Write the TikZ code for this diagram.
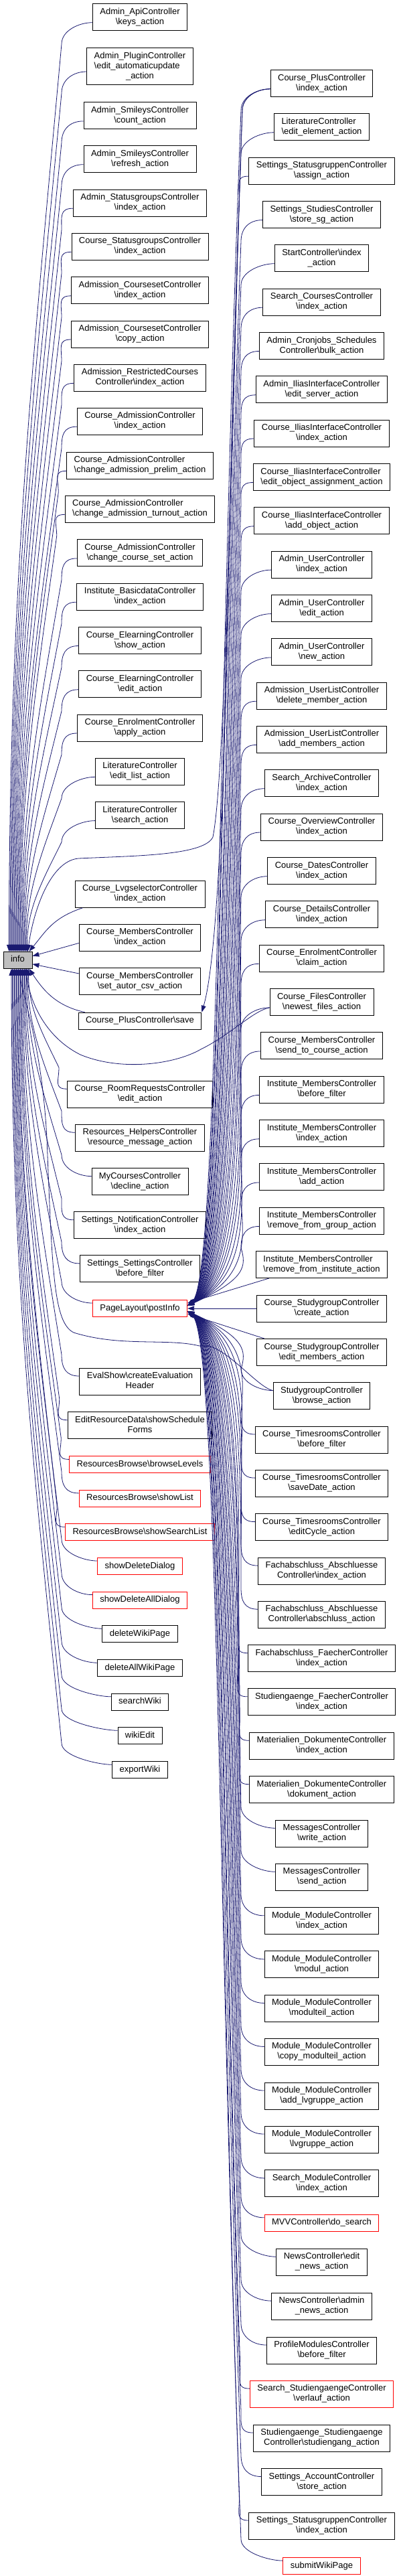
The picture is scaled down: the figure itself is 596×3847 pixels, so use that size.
\documentclass[tikz,border=0pt]{standalone}
\usepackage{fontspec}
\setmainfont{Liberation Sans}
\usepackage{tikz}
\usetikzlibrary{arrows.meta}
\usetikzlibrary{calc}
\definecolor{edgeblue}{HTML}{191970}
\newcommand{\nsep}{\textbackslash}
\newcommand{\fnl}[2]{\begin{tabular}{@{}l@{}}#1\\\multicolumn{1}{@{}c@{}}{#2}\end{tabular}}

\begin{document}
\begin{tikzpicture}[x=1pt,y=-1pt,>={Triangle[length=10pt,width=7pt]},
	fn/.style={draw=black,fill=white,line width=0.9pt,inner xsep=11pt,inner ysep=5pt,font=\fontsize{13}{15}\selectfont},
	one/.style={fn,text height=10.5pt,text depth=4.5pt},
	trunc/.style={draw=red},
	call/.style={draw=edgeblue,line width=0.8pt,->}]
	\useasboundingbox (0,0) rectangle (596,3847);
	
	%funzione
	\node[one,fill=black!25] (info) at (26.5,1433.8) {info};
	
	%chiamanti diretti
	\node[fn] (c1) at (209,25.7) {\fnl{Admin\_ApiController}{\nsep keys\_action}};
	\node[fn] (c2) at (209,99) {\fnl{Admin\_PluginController\\\nsep edit\_automaticupdate}{\_action}};
	\node[fn] (c3) at (209,172.9) {\fnl{Admin\_SmileysController}{\nsep count\_action}};
	\node[fn] (c4) at (209,237.7) {\fnl{Admin\_SmileysController}{\nsep refresh\_action}};
	\node[fn] (c5) at (209,303.2) {\fnl{Admin\_StatusgroupsController}{\nsep index\_action}};
	\node[fn] (c6) at (209,368.3) {\fnl{Course\_StatusgroupsController}{\nsep index\_action}};
	\node[fn] (c7) at (209,433.8) {\fnl{Admission\_CoursesetController}{\nsep index\_action}};
	\node[fn] (c8) at (209,499) {\fnl{Admission\_CoursesetController}{\nsep copy\_action}};
	\node[fn] (c9) at (209,564.3) {\fnl{Admission\_RestrictedCourses}{Controller\nsep index\_action}};
	\node[fn] (c10) at (209,629.2) {\fnl{Course\_AdmissionController}{\nsep index\_action}};
	\node[fn] (c11) at (209,695.3) {\fnl{Course\_AdmissionController}{\nsep change\_admission\_prelim\_action}};
	\node[fn] (c12) at (209,760.4) {\fnl{Course\_AdmissionController}{\nsep change\_admission\_turnout\_action}};
	\node[fn] (c13) at (209,825.9) {\fnl{Course\_AdmissionController}{\nsep change\_course\_set\_action}};
	\node[fn] (c14) at (209,891.2) {\fnl{Institute\_BasicdataController}{\nsep index\_action}};
	\node[fn] (c15) at (209,956.5) {\fnl{Course\_ElearningController}{\nsep show\_action}};
	\node[fn] (c16) at (209,1021.8) {\fnl{Course\_ElearningController}{\nsep edit\_action}};
	\node[fn] (c17) at (209,1087) {\fnl{Course\_EnrolmentController}{\nsep apply\_action}};
	\node[fn] (c18) at (209,1152.3) {\fnl{LiteratureController}{\nsep edit\_list\_action}};
	\node[fn] (c19) at (209,1217.6) {\fnl{LiteratureController}{\nsep search\_action}};
	\node[fn] (c20) at (209,1335.3) {\fnl{Course\_LvgselectorController}{\nsep index\_action}};
	\node[fn] (c21) at (209,1400.4) {\fnl{Course\_MembersController}{\nsep index\_action}};
	\node[fn] (c22) at (209,1465.9) {\fnl{Course\_MembersController}{\nsep set\_autor\_csv\_action}};
	\node[one] (c23) at (209,1524.6) {Course\_PlusController\nsep save};
	\node[fn] (c24) at (209,1634.2) {\fnl{Course\_RoomRequestsController}{\nsep edit\_action}};
	\node[fn] (c25) at (209,1699.3) {\fnl{Resources\_HelpersController}{\nsep resource\_message\_action}};
	\node[fn] (c26) at (209,1764.6) {\fnl{MyCoursesController}{\nsep decline\_action}};
	\node[fn] (c27) at (209,1829.8) {\fnl{Settings\_NotificationController}{\nsep index\_action}};
	\node[fn] (c28) at (209,1894.9) {\fnl{Settings\_SettingsController}{\nsep before\_filter}};
	\node[one,trunc] (postinfo) at (209,1954) {PageLayout\nsep postInfo};
	\node[fn] (c30) at (209,2063) {\fnl{EvalShow\nsep createEvaluation}{Header}};
	\node[fn] (c31) at (209,2128.7) {\fnl{EditResourceData\nsep showSchedule}{Forms}};
	\node[one,trunc] (c32) at (209,2187.4) {ResourcesBrowse\nsep browseLevels};
	\node[one,trunc] (c33) at (209,2237.9) {ResourcesBrowse\nsep showList};
	\node[one,trunc] (c34) at (209,2288.3) {ResourcesBrowse\nsep showSearchList};
	\node[one,trunc] (c35) at (209,2339) {showDeleteDialog};
	\node[one,trunc] (c36) at (209,2389.6) {showDeleteAllDialog};
	\node[one] (c37) at (209,2440.2) {deleteWikiPage};
	\node[one] (c38) at (209,2491.2) {deleteAllWikiPage};
	\node[one] (c39) at (209,2541.8) {searchWiki};
	\node[one] (c40) at (209,2592.3) {wikiEdit};
	\node[one] (c41) at (209,2643.3) {exportWiki};
	
	%chiamanti di postInfo
	\node[fn] (p1) at (480.5,124.8) {\fnl{Course\_PlusController}{\nsep index\_action}};
	\node[fn] (p2) at (480.5,189.8) {\fnl{LiteratureController}{\nsep edit\_element\_action}};
	\node[fn] (p3) at (480.5,255.1) {\fnl{Settings\_StatusgruppenController}{\nsep assign\_action}};
	\node[fn] (p4) at (480.5,320.6) {\fnl{Settings\_StudiesController}{\nsep store\_sg\_action}};
	\node[fn] (p5) at (480.5,385.7) {\fnl{StartController\nsep index}{\_action}};
	\node[fn] (p6) at (480.5,451.2) {\fnl{Search\_CoursesController}{\nsep index\_action}};
	\node[fn] (p7) at (480.5,516.5) {\fnl{Admin\_Cronjobs\_Schedules}{Controller\nsep bulk\_action}};
	\node[fn] (p8) at (480.5,581.8) {\fnl{Admin\_IliasInterfaceController}{\nsep edit\_server\_action}};
	\node[fn] (p9) at (480.5,647) {\fnl{Course\_IliasInterfaceController}{\nsep index\_action}};
	\node[fn] (p10) at (480.5,712.5) {\fnl{Course\_IliasInterfaceController}{\nsep edit\_object\_assignment\_action}};
	\node[fn] (p11) at (480.5,777.8) {\fnl{Course\_IliasInterfaceController}{\nsep add\_object\_action}};
	\node[fn] (p12) at (480.5,843.1) {\fnl{Admin\_UserController}{\nsep index\_action}};
	\node[fn] (p13) at (480.5,908.6) {\fnl{Admin\_UserController}{\nsep edit\_action}};
	\node[fn] (p14) at (480.5,973.9) {\fnl{Admin\_UserController}{\nsep new\_action}};
	\node[fn] (p15) at (480.5,1039.2) {\fnl{Admission\_UserListController}{\nsep delete\_member\_action}};
	\node[fn] (p16) at (480.5,1104.4) {\fnl{Admission\_UserListController}{\nsep add\_members\_action}};
	\node[fn] (p17) at (480.5,1169.7) {\fnl{Search\_ArchiveController}{\nsep index\_action}};
	\node[fn] (p18) at (480.5,1235) {\fnl{Course\_OverviewController}{\nsep index\_action}};
	\node[fn] (p19) at (480.5,1300.7) {\fnl{Course\_DatesController}{\nsep index\_action}};
	\node[fn] (p20) at (480.5,1365.8) {\fnl{Course\_DetailsController}{\nsep index\_action}};
	\node[fn] (p21) at (480.5,1431.3) {\fnl{Course\_EnrolmentController}{\nsep claim\_action}};
	\node[fn] (p22) at (480.5,1496.8) {\fnl{Course\_FilesController}{\nsep newest\_files\_action}};
	\node[fn] (p23) at (480.5,1561.9) {\fnl{Course\_MembersController}{\nsep send\_to\_course\_action}};
	\node[fn] (p24) at (480.5,1627.4) {\fnl{Institute\_MembersController}{\nsep before\_filter}};
	\node[fn] (p25) at (480.5,1692.8) {\fnl{Institute\_MembersController}{\nsep index\_action}};
	\node[fn] (p26) at (480.5,1757.9) {\fnl{Institute\_MembersController}{\nsep add\_action}};
	\node[fn] (p27) at (480.5,1823.4) {\fnl{Institute\_MembersController}{\nsep remove\_from\_group\_action}};
	\node[fn] (p28) at (480.5,1888.5) {\fnl{Institute\_MembersController}{\nsep remove\_from\_institute\_action}};
	\node[fn] (p29) at (480.5,1954) {\fnl{Course\_StudygroupController}{\nsep create\_action}};
	\node[fn] (p30) at (480.5,2019.5) {\fnl{Course\_StudygroupController}{\nsep edit\_members\_action}};
	\node[fn] (p31) at (480.5,2084.6) {\fnl{StudygroupController}{\nsep browse\_action}};
	\node[fn] (p32) at (480.5,2150) {\fnl{Course\_TimesroomsController}{\nsep before\_filter}};
	\node[fn] (p33) at (480.5,2215.1) {\fnl{Course\_TimesroomsController}{\nsep saveDate\_action}};
	\node[fn] (p34) at (480.5,2280.6) {\fnl{Course\_TimesroomsController}{\nsep editCycle\_action}};
	\node[fn] (p35) at (480.5,2346.1) {\fnl{Fachabschluss\_Abschluesse}{Controller\nsep index\_action}};
	\node[fn] (p36) at (480.5,2411.2) {\fnl{Fachabschluss\_Abschluesse}{Controller\nsep abschluss\_action}};
	\node[fn] (p37) at (480.5,2476.7) {\fnl{Fachabschluss\_FaecherController}{\nsep index\_action}};
	\node[fn] (p38) at (480.5,2541.8) {\fnl{Studiengaenge\_FaecherController}{\nsep index\_action}};
	\node[fn] (p39) at (480.5,2607.3) {\fnl{Materialien\_DokumenteController}{\nsep index\_action}};
	\node[fn] (p40) at (480.5,2672.7) {\fnl{Materialien\_DokumenteController}{\nsep dokument\_action}};
	\node[fn] (p41) at (480.5,2738.2) {\fnl{MessagesController}{\nsep write\_action}};
	\node[fn] (p42) at (480.5,2803.3) {\fnl{MessagesController}{\nsep send\_action}};
	\node[fn] (p43) at (480.5,2868.8) {\fnl{Module\_ModuleController}{\nsep index\_action}};
	\node[fn] (p44) at (480.5,2933.9) {\fnl{Module\_ModuleController}{\nsep modul\_action}};
	\node[fn] (p45) at (480.5,2999.4) {\fnl{Module\_ModuleController}{\nsep modulteil\_action}};
	\node[fn] (p46) at (480.5,3064.4) {\fnl{Module\_ModuleController}{\nsep copy\_modulteil\_action}};
	\node[fn] (p47) at (480.5,3130) {\fnl{Module\_ModuleController}{\nsep add\_lvgruppe\_action}};
	\node[fn] (p48) at (480.5,3195) {\fnl{Module\_ModuleController}{\nsep lvgruppe\_action}};
	\node[fn] (p49) at (480.5,3260.9) {\fnl{Search\_ModuleController}{\nsep index\_action}};
	\node[one,trunc] (p50) at (480.5,3319.8) {MVVController\nsep do\_search};
	\node[fn] (p51) at (480.5,3378.2) {\fnl{NewsController\nsep edit}{\_news\_action}};
	\node[fn] (p52) at (480.5,3444.1) {\fnl{NewsController\nsep admin}{\_news\_action}};
	\node[fn] (p53) at (480.5,3510) {\fnl{ProfileModulesController}{\nsep before\_filter}};
	\node[fn,trunc] (p54) at (480.5,3575.1) {\fnl{Search\_StudiengaengeController}{\nsep verlauf\_action}};
	\node[fn] (p55) at (480.5,3641) {\fnl{Studiengaenge\_Studiengaenge}{Controller\nsep studiengang\_action}};
	\node[fn] (p56) at (480.5,3706.5) {\fnl{Settings\_AccountController}{\nsep store\_action}};
	\node[fn] (p57) at (480.5,3772) {\fnl{Settings\_StatusgruppenController}{\nsep index\_action}};
	\node[one,trunc] (p58) at (480.5,3832.1) {submitWikiPage};
	
	%frecce verso info (dall'alto)
	\foreach \src/\off in {c1/-13,c2/-11.5,c3/-10,c4/-8.5,c5/-7,c6/-5.5,c7/-4,c8/-2.5,c9/-1,c10/0.5,
		c11/2,c12/3.5,c13/5,c14/6.5,c15/8,c16/9.5,c17/11,c18/12.5,c19/14}
	\draw[call] let \p1=([yshift=-8pt]\src.west), \p2=([xshift=\off pt]info.north),
		\p3=({min(92pt,\x1-12pt)},{\y1-32pt}) in
		(\p1) .. controls +(-20pt,0pt) and +(0pt,20pt) .. (\p3)
		.. controls ({\x2+0.45*(\x3-\x2)},{\y3+0.35*(\y2-\y3)}) and ({\x2},{\y2-0.4*(\y2-\y3)}) .. (\p2);
	
	%frecce verso info (dal basso)
	\foreach \src/\off in {c24/16,c25/14.5,c26/13,c27/11.5,c28/10,postinfo/8.5,c30/7,c31/5.5,c32/4,c33/2.5,
		c34/1,c35/-0.5,c36/-2,c37/-3.5,c38/-5,c39/-6.5,c40/-8,c41/-9.5}
	\draw[call] let \p1=([yshift=8pt]\src.west), \p2=([xshift=\off pt]info.south),
		\p3=({min(92pt,\x1-12pt)},{\y1+32pt}) in
		(\p1) .. controls +(-20pt,0pt) and +(0pt,-20pt) .. (\p3)
		.. controls ({\x2+0.45*(\x3-\x2)},{\y3+0.35*(\y2-\y3)}) and ({\x2},{\y2-0.4*(\y2-\y3)}) .. (\p2);
	
	%frecce vicine
	\draw[call] ([xshift=12pt]c20.south west) .. controls +(-45,15) and +(25,-30) .. ([xshift=-5pt]info.north east);
	\draw[call] ([yshift=-8pt]c21.west) -- ([yshift=6pt]info.east);
	\draw[call] ([yshift=12pt]c22.west) -- ([yshift=-6pt]info.east);
	\draw[call] ([xshift=10pt]c23.north west) .. controls +(-45,-10) and +(20,30) .. ([xshift=-5pt]info.south east);
	
	%frecce verso postInfo (dall'alto)
	\foreach \src/\xd in {p1/326,p2/328,p3/329,p4/331,p5/332,p6/334,p7/336,p8/337,p9/339,p10/340,
		p11/342,p12/344,p13/345,p14/347,p15/348,p16/350,p17/352,p18/353,p19/355,p20/356,
		p21/358,p22/360,p23/361,p24/363,p25/364,p26/366,p27/368}
	\draw[call] let \p1=([yshift=-8pt]\src.west), \p2=([yshift=4pt]postinfo.east) in
		(\p1) .. controls +(-20pt,0pt) and +(0pt,20pt) .. ({min(360pt,\x1-14pt)},{\y1-32pt})
		.. controls ({\xd*1pt},{0.5*(\y1)+0.5*(\y2)}) and ({\xd*1pt},{\y2+40pt}) .. (\p2);
	
	%frecce verso postInfo (dal basso)
	\foreach \src/\xd in {p31/368,p32/366,p33/365,p34/363,p35/362,p36/360,p37/359,p38/357,p39/356,p40/354,
		p41/353,p42/351,p43/349,p44/348,p45/346,p46/345,p47/343,p48/342,p49/340,p50/339,
		p51/337,p52/335,p53/334,p54/332,p55/331,p56/329,p57/328,p58/326}
	\draw[call] let \p1=([yshift=8pt]\src.west), \p2=([yshift=-4pt]postinfo.east) in
		(\p1) .. controls +(-20pt,0pt) and +(0pt,-20pt) .. ({min(360pt,\x1-14pt)},{\y1+32pt})
		.. controls ({\xd*1pt},{0.5*(\y1)+0.5*(\y2)}) and ({\xd*1pt},{\y2-40pt}) .. (\p2);
	
	%frecce dritte
	\draw[call] ([xshift=20pt]p28.south west) -- ([yshift=8pt]postinfo.east);
	\draw[call] (p29.west) -- (postinfo.east);
	\draw[call] ([xshift=12pt]p30.north west) -- ([yshift=-8pt]postinfo.east);
	
	%frecce lunghe
	\draw[call] ([yshift=-8pt]p1.west) .. controls +(-20,0) and +(0,-20) .. (362,165)
		.. controls (342,700) and (340,1380) .. (c23.north east);
	\draw[call] ([yshift=-8pt]p1.west) .. controls +(-20,0) and +(0,-20) .. (362,165)
		.. controls (345,600) and (338,1150) .. (318,1250) .. controls (305,1278) and (200,1278) .. (117,1282)
		.. controls (75,1286) and (50,1360) .. ([xshift=15pt]info.north);
	\draw[call] ([yshift=-8pt]p22.west) .. controls +(-25,5) and (345,1545) .. (300,1567)
		.. controls (260,1590) and (180,1600) .. (120,1575) .. controls (70,1550) and (45,1500) .. ([xshift=12pt]info.south);
	\draw[call] ([yshift=8pt]p31.west) .. controls +(-25,-5) and (330,2000) .. (298,2010)
		.. controls (250,1998) and (180,2012) .. (110,1990) .. controls (80,1975) and (78,1900) .. (70,1700)
		.. controls (62,1550) and (30,1480) .. ([xshift=4pt]info.south);
	
\end{tikzpicture}
\end{document}
